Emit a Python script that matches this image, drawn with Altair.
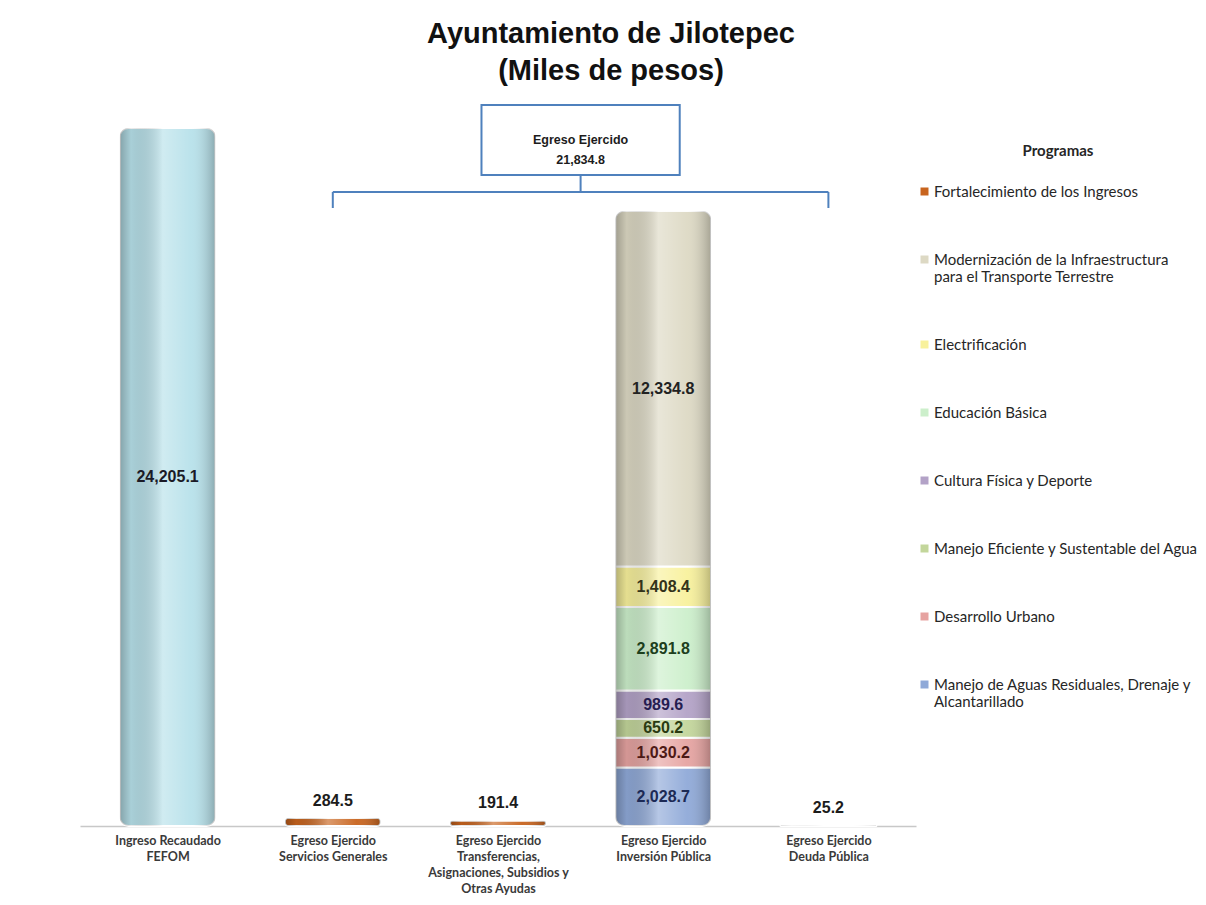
import json
import altair as alt
import pandas as pd

# ---------------- data ----------------
categories = [
    ["Ingreso Recaudado", "FEFOM"],
    ["Egreso Ejercido", "Servicios Generales"],
    ["Egreso Ejercido", "Transferencias,", "Asignaciones, Subsidios y", "Otras Ayudas"],
    ["Egreso Ejercido", "Inversión Pública"],
    ["Egreso Ejercido", "Deuda Pública"],
]

programs = [
    "Fortalecimiento de los Ingresos",
    "Modernización de la Infraestructura para el Transporte Terrestre",
    "Electrificación",
    "Educación Básica",
    "Cultura Física y Deporte",
    "Manejo Eficiente y Sustentable del Agua",
    "Desarrollo Urbano",
    "Manejo de Aguas Residuales, Drenaje y Alcantarillado",
]
program_colors = ["#c8641e", "#ddd9c4", "#f8f19c", "#ccefcb", "#b3a2c7", "#c3d69b", "#e6a3a1", "#8fa9d8"]
program_label_colors = ["#1c1c1c", "#222222", "#33331a", "#1d3f1d", "#261d50", "#2a3a10", "#4d1a16", "#1c2a55"]

fefom_name = "Ingreso Recaudado FEFOM"
fefom_value = 24205.1
fefom_color = "#b7e1ea"

servicios_value = 284.5
transfer_value = 191.4

# Inversión Pública, bottom to top
inversion_programs = [
    "Manejo de Aguas Residuales, Drenaje y Alcantarillado",
    "Desarrollo Urbano",
    "Manejo Eficiente y Sustentable del Agua",
    "Cultura Física y Deporte",
    "Educación Básica",
    "Electrificación",
    "Modernización de la Infraestructura para el Transporte Terrestre",
]
inversion_values = [2028.7, 1030.2, 650.2, 989.6, 2891.8, 1408.4, 12334.8]

deuda_name = "Deuda Pública"
deuda_value = 25.2
deuda_color = "#7f7f7f"

legend_breaks = {
    "Modernización de la Infraestructura para el Transporte Terrestre":
        ["Modernización de la Infraestructura", "para el Transporte Terrestre"],
    "Manejo de Aguas Residuales, Drenaje y Alcantarillado":
        ["Manejo de Aguas Residuales, Drenaje y", "Alcantarillado"],
}

# ---------------- table ----------------
rows = []
rows.append(dict(idx=0, serie=fefom_name, value=fefom_value, order=0, pos="in"))
rows.append(dict(idx=1, serie=programs[0], value=servicios_value, order=0, pos="above"))
rows.append(dict(idx=2, serie=programs[0], value=transfer_value, order=0, pos="above"))
for k, (p, v) in enumerate(zip(inversion_programs, inversion_values)):
    rows.append(dict(idx=3, serie=p, value=v, order=k, pos="in"))
rows.append(dict(idx=4, serie=deuda_name, value=deuda_value, order=0, pos="above"))
df = pd.DataFrame(rows)

egreso_total = servicios_value + transfer_value + sum(inversion_values) + deuda_value

all_series = programs + [fefom_name, deuda_name]
all_colors = program_colors + [fefom_color, deuda_color]
all_label_colors = program_label_colors + ["#1a1a26", "#1c1c1c"]

# ---------------- scales ----------------
X_DOMAIN = [-0.5, 4.5]
Y_MAX = 25520
xs = alt.Scale(domain=X_DOMAIN)
ys = alt.Scale(domain=[0, Y_MAX])

cat_expr = json.dumps(categories, ensure_ascii=False).replace('"', "'")
x_axis = alt.Axis(
    values=[0, 1, 2, 3, 4], title=None, ticks=False, grid=False,
    domainColor="#c8c8c8", domainWidth=1.5,
    labelExpr=f"{cat_expr}[datum.value]",
    labelFont="Lato", labelFontWeight="bold", labelFontSize=12.5, labelColor="#3a3a3a",
    labelLineHeight=16, labelPadding=8, labelFlush=False, labelOverlap=False,
    labelBound=False, labelBaseline="top",
)

leg_expr = "datum.label"
for k, v in legend_breaks.items():
    arr = json.dumps(v, ensure_ascii=False).replace('"', "'")
    leg_expr = f"datum.label == '{k}' ? {arr} : ({leg_expr})"

legend = alt.Legend(
    values=programs, title="Programas", orient="none", legendX=837, legendY=54,
    titleFont="Lato", titleFontSize=15, titleFontWeight="bold", titleColor="#262626",
    titleAnchor="middle", titlePadding=25,
    labelFont="Lato", labelFontSize=15, labelColor="#262626", labelLimit=400,
    labelExpr=leg_expr, labelOffset=2,
    symbolType="square", symbolSize=64, symbolStrokeWidth=0,
    rowPadding=52, padding=0,
)

base = alt.Chart(df)

bars = base.mark_bar(width=96, cornerRadius=9, stroke="white", strokeWidth=2).encode(
    x=alt.X("idx:Q", scale=xs, axis=x_axis),
    y=alt.Y("value:Q", stack="zero", scale=ys, axis=None),
    order=alt.Order("order:Q"),
    color=alt.Color("serie:N", scale=alt.Scale(domain=all_series, range=all_colors), legend=legend),
)

shine = base.mark_bar(
    width=96, cornerRadius=9, strokeWidth=0,
    fill=alt.Gradient(
        gradient="linear", x1=0, x2=1, y1=0, y2=0,
        stops=[
            alt.GradientStop(offset=0, color="rgba(0,0,0,0.28)"),
            alt.GradientStop(offset=0.12, color="rgba(0,0,0,0.08)"),
            alt.GradientStop(offset=0.45, color="rgba(255,255,255,0.35)"),
            alt.GradientStop(offset=0.75, color="rgba(255,255,255,0.05)"),
            alt.GradientStop(offset=1, color="rgba(0,0,0,0.25)"),
        ],
    ),
).encode(
    x=alt.X("idx:Q", scale=xs),
    y=alt.Y("value:Q", stack="zero", scale=ys),
    order=alt.Order("order:Q"),
)

stacked = base.transform_stack(
    stack="value", groupby=["idx"], as_=["y0", "y1"], sort=[alt.SortField("order")]
).transform_calculate(mid="(datum.y0 + datum.y1) / 2")

label_font = "Liberation Sans"
text_color = alt.Color("serie:N", scale=alt.Scale(domain=all_series, range=all_label_colors), legend=None)

inside_text = stacked.transform_filter("datum.pos == 'in'").mark_text(
    font=label_font, fontWeight="bold", fontSize=16, baseline="middle"
).encode(
    x=alt.X("idx:Q", scale=xs),
    y=alt.Y("mid:Q", scale=ys),
    text=alt.Text("value:Q", format=",.1f"),
    color=text_color,
)

above_text = stacked.transform_filter("datum.pos == 'above'").mark_text(
    font=label_font, fontWeight="bold", fontSize=16, baseline="bottom", dy=-9
).encode(
    x=alt.X("idx:Q", scale=xs),
    y=alt.Y("y1:Q", scale=ys),
    text=alt.Text("value:Q", format=",.1f"),
    color=text_color,
)

# ---------------- annotation: box + bracket over the egreso bars ----------------
egreso_first, egreso_last = 1, 4
center = (egreso_first + egreso_last) / 2
box_half = 0.6
box_bottom, box_top = 22573, 25000
bracket_y, tick_y = 21983, 21428

box_df = pd.DataFrame([dict(x=center - box_half, x2=center + box_half, y=box_bottom, y2=box_top)])
box = alt.Chart(box_df).mark_rect(fill="white", stroke="#4f81bd", strokeWidth=2).encode(
    x=alt.X("x:Q", scale=xs), x2="x2:Q", y=alt.Y("y:Q", scale=ys), y2="y2:Q"
)

bracket_df = pd.DataFrame([
    dict(x=egreso_first, x2=egreso_last, y=bracket_y, y2=bracket_y),
    dict(x=egreso_first, x2=egreso_first, y=tick_y, y2=bracket_y),
    dict(x=egreso_last, x2=egreso_last, y=tick_y, y2=bracket_y),
    dict(x=center, x2=center, y=bracket_y, y2=box_bottom),
])
bracket = alt.Chart(bracket_df).mark_rule(stroke="#4f81bd", strokeWidth=2).encode(
    x=alt.X("x:Q", scale=xs), x2="x2:Q", y=alt.Y("y:Q", scale=ys), y2="y2:Q"
)

box_text_df = pd.DataFrame([dict(x=center, y=(box_bottom + box_top) / 2,
                                 t=["Egreso Ejercido", f"{egreso_total:,.1f}"])])
box_text = alt.Chart(box_text_df).mark_text(
    font=label_font, fontWeight="bold", fontSize=12.5, color="#1c1c1c", lineHeight=20, baseline="middle"
).encode(x=alt.X("x:Q", scale=xs), y=alt.Y("y:Q", scale=ys), text="t")

chart = alt.layer(bars, shine, inside_text, above_text, bracket, box, box_text).resolve_scale(
    color="independent"
).properties(
    width=836, height=736,
    background="white",
    autosize=alt.AutoSizeParams(type="none"),
    padding={"left": 72, "top": 82, "right": 282, "bottom": 71},
    title=alt.TitleParams(
        ["Ayuntamiento de Jilotepec", "(Miles de pesos)"],
        font="Liberation Sans", fontSize=29, fontWeight="bold", color="#111111",
        lineHeight=37, anchor="middle", frame="group", dx=113, offset=4,
    ),
).configure_view(strokeWidth=0)

chart.save("out.html", embed_options={"renderer": "svg", "actions": False})
